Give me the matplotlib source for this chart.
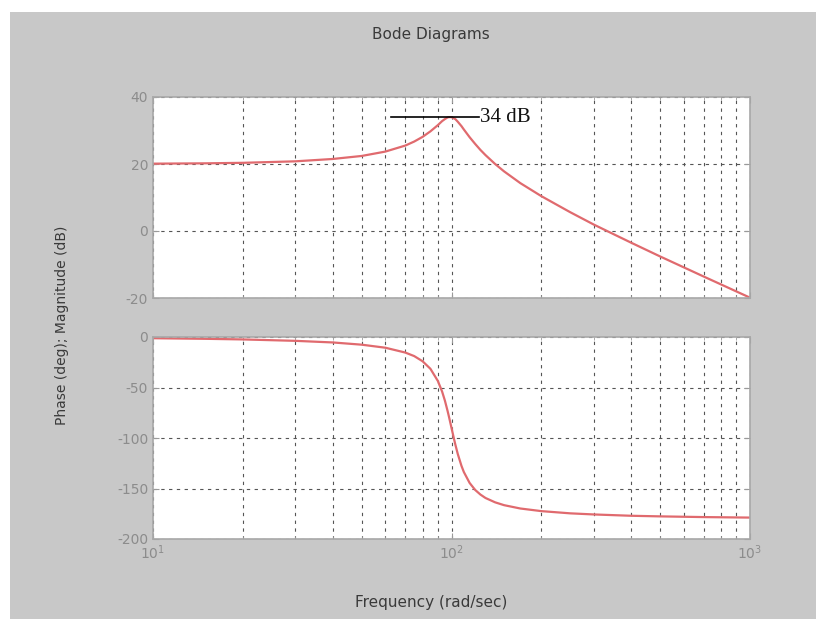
import matplotlib.pyplot as plt
from matplotlib.patches import Rectangle
from matplotlib.ticker import LogLocator, NullFormatter

plt.rcParams['axes.unicode_minus'] = False

# frequency points (rad/sec) and the response read at each one
freq = [10, 15, 20, 30, 40, 50, 60, 70, 75, 80, 85, 90, 93, 95, 97, 98, 99, 100,
        102, 103, 105, 108, 110, 115, 120, 125, 130, 140, 150, 170, 200, 250,
        300, 400, 500, 700, 1000]
mag_db = [20.1, 20.2, 20.35, 20.8, 21.5, 22.4, 23.7, 25.5, 26.7, 28.1, 29.75,
          31.6, 32.8, 33.4, 33.9, 34.0, 34.0, 34.0, 33.6, 33.4, 32.6, 31.3,
          30.3, 28.0, 26.0, 24.2, 22.65, 20.0, 17.8, 14.3, 10.4, 5.6,
          1.9, -3.5, -7.6, -13.6, -19.9]
phase_deg = [-1.2, -1.8, -2.4, -3.8, -5.4, -7.6, -10.6, -15.4, -18.9, -24.0,
             -31.5, -43.5, -54.0, -62.8, -73.1, -78.6, -84.3, -90.0, -101.2,
             -106.5, -116.0, -127.6, -133.7, -144.5, -151.4, -156.0, -159.4,
             -163.7, -166.5, -169.8, -172.4, -174.6,
             -175.7, -177.0, -177.6, -178.3, -178.8]

peak_db = 34
peak_span = [62.8, 124]

mag_ticks = [-20, 0, 20, 40]
phase_ticks = [-200, -150, -100, -50, 0]

bg = '#c8c8c8'
line_col = '#e06a6e'
tick_col = '#8c8c8c'
label_col = '#3a3a3a'

fig = plt.figure(figsize=(8.16, 6.19), dpi=100)
fig.patch.set_facecolor('white')
fig.patches.append(Rectangle((10 / 816, 0), 1, 1 - 12 / 619, transform=fig.transFigure,
                             facecolor=bg, edgecolor='none', zorder=-10))

ax1 = fig.add_axes([153 / 816, 1 - 298 / 619, 597 / 816, 201 / 619])
ax2 = fig.add_axes([153 / 816, 1 - 539 / 619, 597 / 816, 202 / 619])


def style(ax, yticks):
    ax.set_xscale('log')
    ax.set_xlim(10, 1000)
    ax.set_ylim(yticks[0], yticks[-1])
    ax.set_yticks(yticks)
    ax.xaxis.set_major_locator(LogLocator(base=10, numticks=5))
    ax.xaxis.set_minor_locator(LogLocator(base=10, subs=range(2, 10), numticks=20))
    ax.xaxis.set_minor_formatter(NullFormatter())
    ax.grid(True, which='both', axis='x', color='#555555', linestyle=(0, (3, 4)), linewidth=0.8)
    ax.grid(True, which='major', axis='y', color='#555555', linestyle=(0, (3, 4)), linewidth=0.8)
    ax.tick_params(which='both', direction='in', top=True, right=True, colors='#9a9a9a',
                   labelcolor=tick_col, labelsize=10)
    ax.tick_params(which='major', length=4)
    ax.tick_params(which='minor', length=2.5)
    for sp in ax.spines.values():
        sp.set_color('#a8a8a8')
        sp.set_linewidth(1.2)


style(ax1, mag_ticks)
style(ax2, phase_ticks)
ax1.tick_params(labelbottom=False)

ax1.plot(freq, mag_db, color=line_col, linewidth=1.6)
ax2.plot(freq, phase_deg, color=line_col, linewidth=1.6)

# peak marker
ax1.plot(peak_span, [peak_db, peak_db], color='black', linewidth=1.2)
ax1.text(peak_span[1] * 1.003, peak_db, f'{peak_db} dB', family='Liberation Serif',
         fontsize=15, va='center', ha='left', color='#111111')

fig.text(431 / 816, 1 - 35 / 619, 'Bode Diagrams', ha='center', va='center',
         fontsize=11, color=label_col)
fig.text(431 / 816, 1 - 602 / 619, 'Frequency (rad/sec)', ha='center', va='center',
         fontsize=11, color=label_col)
fig.text(62 / 816, 1 - 325 / 619, 'Phase (deg); Magnitude (dB)', ha='center', va='center',
         rotation=90, fontsize=10, color=label_col)

fig.savefig('out.png', dpi=100, facecolor=fig.get_facecolor())
